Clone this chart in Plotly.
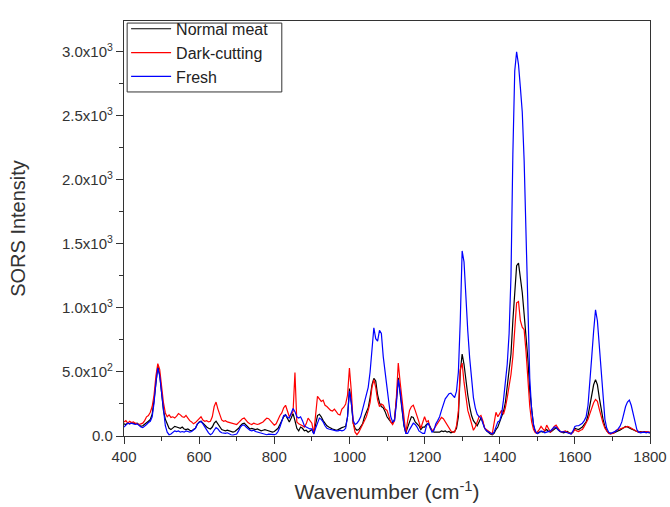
import plotly.graph_objects as go

# Raman shift axis (cm^-1), sampled every 5 cm^-1
wavenumber = list(range(400, 1805, 5))

normal_meat = [
    95, 90, 100, 95, 105, 100, 95, 100, 85, 75, 80, 90, 100, 115, 130, 170, 280, 430, 545, 480,
    340, 200, 130, 90, 60, 50, 65, 75, 70, 65, 60, 70, 55, 50, 55, 45, 40, 50, 60, 90,
    110, 115, 100, 80, 70, 60, 55, 70, 100, 115, 90, 65, 50, 45, 40, 45, 40, 35, 30, 35,
    45, 60, 80, 95, 100, 85, 70, 55, 60, 55, 50, 55, 45, 40, 45, 50, 45, 40, 35, 30,
    35, 45, 60, 90, 120, 150, 165, 140, 110, 140, 175, 120, 60, 40, 70, 60, 40, 45, 30, 40,
    50, 20, 100, 160, 170, 150, 120, 95, 80, 70, 60, 55, 50, 45, 50, 60, 65, 70, 75, 150,
    370, 260, 100, 60, 45, 50, 70, 95, 150, 190, 220, 300, 400, 450, 430, 320, 260, 230, 220, 190,
    150, 130, 110, 100, 130, 280, 455, 330, 180, 80, 25, 60, 110, 150, 145, 110, 95, 80, 50, 70,
    70, 90, 100, 70, 40, 30, 30, 35, 30, 40, 35, 40, 30, 35, 25, 30, 35, 60, 150, 500,
    640, 560, 430, 320, 230, 160, 120, 100, 80, 110, 140, 110, 60, 40, 25, 15, 10, 20, 50, 70,
    110, 150, 190, 260, 380, 500, 640, 900, 1150, 1330, 1350, 1230, 1120, 950, 780, 600, 350, 200, 80, 30,
    20, 30, 35, 30, 40, 50, 35, 30, 40, 55, 65, 50, 35, 30, 25, 30, 35, 25, 20, 30,
    60, 55, 50, 60, 70, 90, 110, 160, 250, 330, 400, 440, 400, 300, 200, 130, 75, 40, 25, 20,
    20, 25, 35, 40, 45, 55, 65, 75, 70, 60, 55, 50, 40, 35, 30, 35, 30, 35, 30, 28, 25,
]

dark_cutting = [
    110, 120, 100, 115, 105, 110, 100, 95, 90, 95, 100, 120, 150, 160, 185, 230, 320, 470, 565, 520,
    360, 260, 180, 150, 165, 145, 150, 140, 155, 175, 165, 150, 145, 160, 140, 120, 110, 95, 105, 120,
    130, 150, 125, 115, 120, 110, 115, 150, 230, 265, 210, 160, 125, 115, 120, 110, 105, 100, 95, 90,
    90, 105, 120, 135, 140, 120, 105, 95, 90, 100, 95, 90, 95, 100, 110, 125, 140, 135, 120, 100,
    85, 95, 130, 160, 180, 220, 240, 200, 150, 170, 190, 495, 110, 95, 90, 80, 70, 95, 140, 120,
    100, 20, 200, 310, 290, 270, 280, 240, 230, 215, 200, 195, 210, 190, 170, 165, 210, 225, 250, 320,
    530, 350, 100, 30, 10, 30, 60, 80, 110, 150, 200, 260, 380, 440, 380, 280, 230, 250, 240, 210,
    200, 150, 110, 90, 120, 300, 570, 420, 280, 120, 20, 120, 200, 230, 240, 200, 160, 110, 60, 100,
    150, 110, 120, 60, 40, 55, 80, 100, 120, 145, 135, 110, 90, 60, 40, 30, 30, 80, 200, 520,
    570, 420, 300, 200, 150, 90, 45, 70, 110, 150, 160, 120, 60, 50, 40, 25, 15, 100, 185, 150,
    180, 200, 170, 220, 300, 380, 480, 620, 880, 1040, 1050, 900, 850, 830, 660, 420, 230, 110, 50, 25,
    30, 50, 75, 55, 40, 85, 60, 30, 50, 75, 85, 60, 40, 30, 35, 40, 30, 25, 15, 30,
    50, 40, 35, 45, 50, 75, 100, 130, 175, 220, 260, 285, 270, 210, 150, 100, 60, 35, 20, 15,
    20, 25, 45, 50, 55, 60, 65, 70, 75, 70, 60, 55, 45, 35, 30, 30, 28, 30, 35, 30, 30,
]

fresh = [
    70, 85, 100, 95, 100, 95, 90, 95, 80, 70, 65, 75, 90, 105, 115, 150, 260, 420, 530, 470,
    320, 170, 80, 30, 10, 15, 30, 40, 35, 40, 30, 35, 30, 40, 35, 30, 35, 45, 60, 95,
    105, 115, 95, 70, 50, 25, 10, 20, 45, 65, 55, 35, 25, 20, 20, 25, 15, 10, 8, 10,
    15, 40, 70, 85, 85, 70, 55, 45, 40, 45, 35, 30, 25, 20, 15, 12, 10, 15, 12, 10,
    10, 15, 35, 70, 120, 160, 165, 145, 140, 180, 215, 190, 150, 140, 150, 120, 80, 70, 60, 55,
    55, 15, 60, 110, 140, 130, 110, 80, 60, 55, 50, 45, 45, 40, 40, 45, 40, 45, 60, 150,
    350, 260, 120, 90, 100, 120, 150, 210, 280, 330, 380, 500, 670, 845, 760, 740, 825, 800, 620, 480,
    380, 260, 150, 110, 120, 250, 440, 350, 220, 90, 20, 20, 50, 80, 100, 90, 70, 40, 30, 20,
    20, 80, 100, 60, 30, 45, 95, 120, 150, 200, 250, 290, 310, 330, 335, 320, 300, 350, 500, 900,
    1445, 1360, 1070, 820, 610, 430, 300, 220, 170, 150, 145, 100, 60, 40, 30, 20, 15, 30, 70, 110,
    120, 170, 280, 420, 560, 800, 1250, 2200, 2850, 3000, 2900, 2720, 2530, 2150, 1500, 850, 450, 200, 90, 35,
    20, 25, 40, 35, 25, 30, 35, 40, 55, 70, 70, 50, 40, 30, 35, 30, 30, 20, 15, 40,
    75, 80, 80, 90, 100, 120, 150, 240, 410, 620, 820, 985, 900, 700, 480, 280, 130, 60, 30, 20,
    25, 30, 40, 55, 75, 110, 170, 230, 265, 280, 240, 170, 100, 50, 30, 25, 28, 30, 25, 30, 25,
]

series = [
    ("Normal meat", normal_meat, "#000000"),
    ("Dark-cutting", dark_cutting, "#ff0000"),
    ("Fresh", fresh, "#0000ff"),
]

y_tick_vals = [0, 500, 1000, 1500, 2000, 2500, 3000]
y_tick_text = ["0.0", "5.0x10<sup>2</sup>", "1.0x10<sup>3</sup>", "1.5x10<sup>3</sup>",
               "2.0x10<sup>3</sup>", "2.5x10<sup>3</sup>", "3.0x10<sup>3</sup>"]
x_tick_vals = [400, 600, 800, 1000, 1200, 1400, 1600, 1800]

FONT = "Liberation Sans, Arial, sans-serif"

fig = go.Figure()
for name, values, color in series:
    fig.add_trace(go.Scatter(
        x=wavenumber, y=values, mode="lines", name=name,
        line=dict(color=color, width=1.2),
    ))

axis_common = dict(
    showline=True, linecolor="#333333", linewidth=1.3, mirror=True,
    showgrid=False, zeroline=False, automargin=False,
    ticks="outside", ticklen=7, tickwidth=1.2, tickcolor="#333333",
    tickfont=dict(family=FONT, size=15, color="#333333"),
)

# Framed box behind the legend entries
fig.add_shape(
    type="rect", xref="paper", yref="paper",
    x0=0.006, x1=0.300, y0=0.829, y1=0.995,
    line=dict(color="#333333", width=1), fillcolor="white", layer="above",
)

fig.update_layout(
    width=670, height=507,
    margin=dict(l=124, r=20, t=15, b=71),
    paper_bgcolor="white", plot_bgcolor="white",
    font=dict(family=FONT, color="#333333"),
    showlegend=True,
    legend=dict(
        x=0.004, y=1.022, xanchor="left", yanchor="top",
        bgcolor="rgba(0,0,0,0)", borderwidth=0,
        font=dict(family=FONT, size=16, color="#222222"),
        tracegroupgap=0, itemwidth=40,
    ),
    xaxis=dict(
        range=[400, 1800], tickvals=x_tick_vals,
        minor=dict(ticks="outside", ticklen=4, tickwidth=1.1, tickcolor="#333333", dtick=100),
        title=dict(text="Wavenumber (cm<sup>-1</sup>)",
                   font=dict(family=FONT, size=21, color="#333333"),
                   standoff=20),
        **axis_common,
    ),
    yaxis=dict(
        range=[0, 3240], tickvals=y_tick_vals, ticktext=y_tick_text,
        minor=dict(ticks="outside", ticklen=4, tickwidth=1.1, tickcolor="#333333",
                   tickvals=[250, 750, 1250, 1750, 2250, 2750, 3250]),
        title=dict(text="SORS Intensity",
                   font=dict(family=FONT, size=20, color="#333333"),
                   standoff=30),
        **axis_common,
    ),
)

fig.write_html("out.html")
